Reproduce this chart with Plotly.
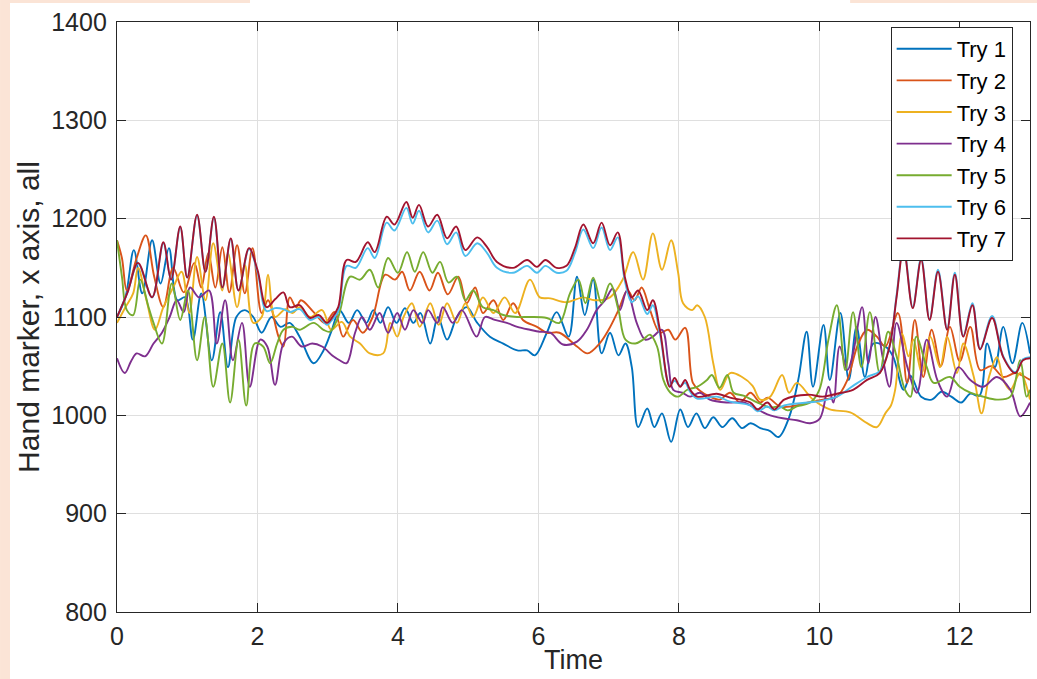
import plotly.graph_objects as go

# ---------------- data ----------------
series_names = ["Try 1", "Try 2", "Try 3", "Try 4", "Try 5", "Try 6", "Try 7"]
series_colors = ["#0072BD", "#D95319", "#EDB120", "#7E2F8E", "#77AC30", "#4DBEEE", "#A2142F"]

x_ticks = [0, 2, 4, 6, 8, 10, 12]
y_ticks = [800, 900, 1000, 1100, 1200, 1300, 1400]
x_title = "Time"
y_title = "Hand marker, x axis, all"

t1 = [0, 0.12, 0.24, 0.36, 0.5, 0.62, 0.74, 0.86, 0.97, 1.08, 1.2, 1.35, 1.47, 1.58, 1.7, 1.82, 1.94, 2.06, 2.2, 2.33,
      2.46, 2.6, 2.8, 2.94, 3.06, 3.17, 3.3, 3.42, 3.55, 3.65, 3.75, 3.86, 3.98, 4.1, 4.22, 4.32, 4.46, 4.57, 4.7, 4.84,
      4.98, 5.13, 5.31, 5.5, 5.7, 5.84, 5.95, 6.12, 6.26, 6.43, 6.55, 6.66, 6.78, 6.9, 7.02, 7.14, 7.24, 7.33, 7.42, 7.55,
      7.65, 7.76, 7.89, 8.02, 8.13, 8.25, 8.37, 8.49, 8.62, 8.76, 8.9, 9.02, 9.16, 9.3, 9.42, 9.57, 9.7, 9.82, 9.91, 10.06,
      10.15, 10.3, 10.42, 10.53, 10.65, 10.77, 10.94, 11.05, 11.2, 11.3, 11.45, 11.6, 11.74, 11.88, 12.02, 12.15, 12.28,
      12.39, 12.5, 12.62, 12.75, 12.89, 13.0]
y1 = [1100, 1120, 1168, 1124, 1178, 1134, 1170, 1117, 1120, 1077, 1124, 1056, 1105, 1049, 1100, 1107, 1100, 1084, 1100, 1090,
      1094, 1080, 1053, 1066, 1087, 1107, 1094, 1107, 1094, 1107, 1094, 1110, 1094, 1109, 1094, 1104, 1073, 1100, 1077, 1100,
      1110, 1094, 1080, 1073, 1066, 1066, 1061, 1084, 1105, 1080, 1141, 1102, 1138, 1063, 1084, 1061, 1073, 1049, 988, 1007,
      988, 1002, 973, 1006, 988, 1002, 987, 998, 988, 997, 987, 992, 987, 984, 978, 998, 1036, 1085, 1029, 1092,
      1036, 1104, 1036, 1090, 1039, 1073, 1070, 1060, 1026, 1040, 1019, 1016, 1024, 1019, 1013, 1022, 1020,
      1073, 1049, 1090, 1053, 1094, 1063]

t2 = [0, 0.07, 0.14, 0.28, 0.41, 0.53, 0.66, 0.8, 0.95, 1.1, 1.2, 1.3, 1.4, 1.5, 1.6, 1.71, 1.82, 1.93, 2.06, 2.15,
      2.3, 2.37, 2.46, 2.55, 2.62, 2.8, 2.96, 3.1, 3.22, 3.36, 3.5, 3.64, 3.82, 3.96, 4.06, 4.17, 4.31, 4.45, 4.57, 4.71,
      4.86, 4.98, 5.1, 5.21, 5.36, 5.5, 5.64, 5.78, 5.98, 6.12, 6.3, 6.55, 6.7, 6.87, 7.0, 7.14, 7.27, 7.37, 7.47, 7.59,
      7.73, 7.85, 7.95, 8.09, 8.2, 8.3, 8.44, 8.58, 8.73, 8.87, 9.02, 9.16, 9.26, 9.44, 9.6, 9.84, 10.05, 10.25, 10.4, 10.54,
      10.68, 10.82, 10.94, 11.12, 11.25, 11.36, 11.48, 11.6, 11.73, 11.86, 12.0, 12.15, 12.29, 12.45, 12.62, 12.79, 12.93, 13.0]
y2 = [1178, 1160, 1127, 1160, 1183, 1141, 1110, 1150, 1125, 1155, 1130, 1165, 1130, 1171, 1125, 1173, 1124, 1170, 1104, 1117,
      1080, 1070, 1120, 1110, 1117, 1105, 1094, 1105, 1080, 1097, 1084, 1100, 1143, 1138, 1146, 1127, 1146, 1127, 1145, 1123,
      1141, 1114, 1130, 1104, 1117, 1097, 1114, 1097, 1090, 1084, 1084, 1070, 1063, 1073, 1087, 1107, 1127, 1117, 1130, 1107,
      1084, 1087, 1077, 1089, 1033, 1025, 1019, 1016, 1023, 1013, 1023, 1013, 1018, 1009, 1009, 1013, 1016, 1019, 1036, 1070,
      1087, 1080, 1070, 1104, 1033, 1097, 1039, 1087, 1050, 1090, 1055, 1090, 1046, 1050, 1039, 1043, 1039, 1036]

t3 = [0, 0.12, 0.23, 0.3, 0.42, 0.54, 0.66, 0.8, 0.92, 1.03, 1.14, 1.26, 1.37, 1.5, 1.58, 1.71, 1.82, 1.94, 2.06, 2.15,
      2.25, 2.4, 2.5, 2.6, 2.75, 2.92, 3.05, 3.2, 3.32, 3.46, 3.6, 3.79, 3.89, 3.99, 4.08, 4.2, 4.31, 4.46, 4.58, 4.7,
      4.84, 4.96, 5.07, 5.21, 5.36, 5.52, 5.67, 5.88, 6.02, 6.17, 6.4, 6.64, 6.8, 7.02, 7.2, 7.35, 7.49, 7.63, 7.76, 7.89,
      7.99, 8.06, 8.19, 8.26, 8.37, 8.49, 8.59, 8.73, 8.9, 9.05, 9.16, 9.3, 9.47, 9.57, 9.68, 9.91, 10.15, 10.44, 10.68, 10.82,
      10.94, 11.02, 11.08, 11.18, 11.27, 11.34, 11.46, 11.58, 11.72, 11.82, 11.96, 12.05, 12.2, 12.31, 12.42, 12.53, 12.62,
      12.72, 12.86, 13.0]
y3 = [1094, 1110, 1124, 1150, 1117, 1087, 1110, 1130, 1146, 1104, 1161, 1117, 1175, 1127, 1165, 1110, 1153, 1094, 1100, 1143,
      1100, 1108, 1104, 1110, 1100, 1107, 1087, 1095, 1080, 1073, 1063, 1063, 1094, 1080, 1100, 1114, 1090, 1114, 1092, 1114,
      1094, 1114, 1100, 1120, 1104, 1120, 1104, 1138, 1120, 1119, 1115, 1120, 1117, 1120, 1138, 1166, 1138, 1185, 1148, 1178,
      1145, 1114, 1107, 1112, 1100, 1053, 1026, 1043, 1039, 1030, 1016, 1019, 1041, 1023, 1033, 1016, 1006, 1003, 992, 988,
      1002, 1010, 1026, 1083, 1060, 1077, 1043, 1080, 1049, 1080, 1043, 1073, 1039, 1002, 1040, 1059, 1036, 1026, 1043, 1016]

t4 = [0, 0.11, 0.2, 0.28, 0.4, 0.52, 0.64, 0.75, 0.85, 0.95, 1.04, 1.17, 1.31, 1.42, 1.54, 1.65, 1.78, 1.89, 2.04, 2.14,
      2.25, 2.37, 2.49, 2.63, 2.78, 2.92, 3.08, 3.17, 3.27, 3.39, 3.49, 3.6, 3.74, 3.86, 3.99, 4.1, 4.22, 4.35, 4.43, 4.56,
      4.64, 4.78, 4.91, 5.12, 5.24, 5.38, 5.55, 5.7, 5.88, 6.02, 6.17, 6.35, 6.55, 6.69, 6.83, 6.95, 7.06, 7.16, 7.26, 7.4,
      7.52, 7.63, 7.76, 7.85, 7.92, 8.05, 8.16, 8.3, 8.44, 8.69, 8.92, 9.12, 9.26, 9.48, 9.68, 9.87, 10.01, 10.13, 10.2, 10.29,
      10.4, 10.48, 10.61, 10.7, 10.8, 10.9, 11.0, 11.1, 11.25, 11.39, 11.53, 11.68, 11.82, 11.98, 12.15, 12.33, 12.53, 12.72,
      12.86, 13.0]
y4 = [1058, 1043, 1055, 1063, 1060, 1073, 1084, 1100, 1117, 1105, 1130, 1120, 1127, 1073, 1117, 1056, 1094, 1029, 1077, 1070,
      1031, 1073, 1080, 1070, 1073, 1070, 1060, 1056, 1053, 1084, 1100, 1087, 1104, 1084, 1104, 1087, 1107, 1094, 1107, 1094,
      1110, 1094, 1107, 1080, 1100, 1097, 1094, 1090, 1087, 1085, 1084, 1072, 1075, 1087, 1107, 1117, 1129, 1107, 1127, 1094,
      1077, 1080, 1087, 1053, 1026, 1023, 1019, 1023, 1016, 1013, 1013, 1006, 1001, 997, 995, 992, 997, 1029, 1013, 1070,
      1046, 1063, 1110, 1053, 1100, 1060, 1029, 1094, 1050, 1023, 1077, 1036, 1019, 1049, 1036, 1029, 1039, 1026, 999, 1013]

t5 = [0, 0.07, 0.14, 0.23, 0.33, 0.45, 0.52, 0.64, 0.78, 0.9, 1.01, 1.14, 1.25, 1.37, 1.5, 1.61, 1.73, 1.84, 1.96, 2.08,
      2.18, 2.28, 2.37, 2.5, 2.6, 2.8, 2.94, 3.03, 3.15, 3.32, 3.46, 3.6, 3.72, 3.86, 4.0, 4.13, 4.24, 4.36, 4.49, 4.6,
      4.72, 4.84, 4.96, 5.07, 5.21, 5.36, 5.5, 5.7, 5.88, 6.12, 6.3, 6.45, 6.57, 6.67, 6.78, 6.9, 7.02, 7.14, 7.24, 7.38,
      7.49, 7.59, 7.69, 7.78, 7.88, 7.99, 8.12, 8.26, 8.4, 8.47, 8.58, 8.69, 8.78, 8.92, 9.12, 9.3, 9.44, 9.55, 9.68, 9.87,
      10.0, 10.13, 10.25, 10.37, 10.48, 10.6, 10.72, 10.86, 10.98, 11.1, 11.22, 11.3, 11.38, 11.53, 11.63, 11.86, 12.0, 12.15,
      12.33, 12.53, 12.72, 12.86, 12.95, 13.0]
y5 = [1178, 1141, 1107, 1102, 1138, 1110, 1094, 1073, 1134, 1097, 1127, 1056, 1100, 1029, 1073, 1013, 1077, 1010, 1073, 1070,
      1053, 1073, 1087, 1090, 1087, 1094, 1087, 1085, 1100, 1141, 1138, 1148, 1130, 1160, 1145, 1166, 1146, 1166, 1145, 1156,
      1135, 1141, 1117, 1127, 1110, 1107, 1102, 1100, 1100, 1099, 1094, 1124, 1138, 1114, 1140, 1114, 1134, 1107, 1077, 1073,
      1077, 1082, 1070, 1036, 1023, 1019, 1026, 1029, 1036, 1041, 1028, 1041, 1023, 1020, 1013, 1008, 1009, 1005, 1009, 1013,
      1026, 1077, 1112, 1046, 1105, 1049, 1105, 1043, 1085, 1060, 1026, 1019, 1080, 1049, 1033, 1039, 1029, 1023, 1019, 1016,
      1019, 1056, 1019, 1026]

t6 = [0, 0.15, 0.3, 0.5, 0.66, 0.77, 0.9, 1.0, 1.14, 1.26, 1.38, 1.5, 1.62, 1.73, 1.88, 2.0, 2.13, 2.25, 2.37, 2.46,
      2.6, 2.75, 2.87, 2.99, 3.05, 3.15, 3.27, 3.4, 3.57, 3.67, 3.84, 3.95, 4.12, 4.21, 4.3, 4.43, 4.56, 4.7, 4.83, 4.96,
      5.13, 5.27, 5.41, 5.64, 5.84, 5.98, 6.1, 6.26, 6.4, 6.52, 6.64, 6.78, 6.9, 7.02, 7.13, 7.23, 7.33, 7.42, 7.55, 7.63,
      7.73, 7.87, 7.94, 8.02, 8.09, 8.16, 8.26, 8.54, 8.73, 9.02, 9.12, 9.26, 9.36, 9.5, 9.84, 10.05, 10.25, 10.48, 10.68, 10.86,
      11.0, 11.1, 11.2, 11.33, 11.45, 11.57, 11.69, 11.82, 11.93, 12.05, 12.18, 12.29, 12.46, 12.62, 12.79, 12.9, 13.0]
y6 = [1100, 1125, 1154, 1120, 1175, 1138, 1191, 1140, 1203, 1146, 1201, 1130, 1179, 1127, 1169, 1146, 1106, 1109, 1108, 1105,
      1108, 1097, 1100, 1092, 1096, 1106, 1152, 1150, 1170, 1160, 1196, 1188, 1211, 1195, 1208, 1186, 1198, 1174, 1186, 1162,
      1175, 1165, 1150, 1145, 1152, 1145, 1152, 1145, 1147, 1165, 1189, 1170, 1191, 1168, 1181, 1137, 1115, 1121, 1103, 1112,
      1083, 1031, 1035, 1030, 1033, 1024, 1017, 1019, 1014, 1010, 1004, 1009, 1005, 1010, 1013, 1015, 1019, 1030, 1039, 1045,
      1070, 1122, 1172, 1110, 1160, 1098, 1148, 1088, 1145, 1081, 1114, 1068, 1101, 1060, 1044, 1057, 1059]

t7 = [0, 0.15, 0.3, 0.5, 0.66, 0.77, 0.9, 1.0, 1.14, 1.26, 1.38, 1.5, 1.62, 1.73, 1.88, 2.0, 2.13, 2.25, 2.37, 2.46,
      2.6, 2.75, 2.87, 2.99, 3.05, 3.15, 3.27, 3.4, 3.57, 3.67, 3.84, 3.95, 4.12, 4.21, 4.3, 4.43, 4.56, 4.7, 4.83, 4.96,
      5.13, 5.27, 5.41, 5.64, 5.84, 5.98, 6.1, 6.26, 6.4, 6.52, 6.64, 6.78, 6.9, 7.02, 7.13, 7.23, 7.33, 7.42, 7.55, 7.63,
      7.73, 7.87, 7.94, 8.02, 8.09, 8.16, 8.26, 8.54, 8.73, 9.02, 9.12, 9.26, 9.36, 9.5, 9.84, 10.05, 10.25, 10.48, 10.68, 10.86,
      11.0, 11.1, 11.2, 11.33, 11.45, 11.57, 11.69, 11.82, 11.93, 12.05, 12.18, 12.29, 12.46, 12.62, 12.79, 12.9, 13.0]
y7 = [1100, 1125, 1155, 1120, 1176, 1138, 1192, 1140, 1204, 1146, 1202, 1130, 1180, 1127, 1170, 1148, 1110, 1118, 1125, 1110,
      1112, 1099, 1102, 1094, 1098, 1110, 1158, 1156, 1176, 1166, 1202, 1194, 1217, 1201, 1214, 1192, 1204, 1180, 1192, 1168,
      1181, 1171, 1156, 1150, 1158, 1151, 1158, 1150, 1152, 1170, 1194, 1175, 1196, 1173, 1186, 1141, 1120, 1127, 1107, 1117,
      1087, 1029, 1038, 1029, 1036, 1026, 1019, 1022, 1018, 1013, 1006, 1013, 1006, 1016, 1021, 1019, 1022, 1026, 1036, 1043,
      1070, 1120, 1170, 1109, 1158, 1097, 1146, 1087, 1143, 1080, 1112, 1067, 1099, 1059, 1043, 1056, 1058]

times = [t1, t2, t3, t4, t5, t6, t7]
values = [y1, y2, y3, y4, y5, y6, y7]

# ---------------- figure ----------------
FONT = "Liberation Sans, Arial, Helvetica, sans-serif"
INK = "#262626"

fig = go.Figure()
for name, color, tt, vv in zip(series_names, series_colors, times, values):
    if len(tt) != len(vv):
        raise ValueError(f"{name}: {len(tt)} times vs {len(vv)} values")
    fig.add_trace(go.Scatter(
        x=tt, y=vv, name=name, mode="lines",
        line=dict(color=color, width=1.9, shape="spline", smoothing=1.0),
    ))

axis_common = dict(
    automargin=False,
    showgrid=True, gridcolor="#DFDFDF", gridwidth=1,
    zeroline=False,
    showline=True, linecolor=INK, linewidth=1.3, mirror="ticks",
    ticks="inside", ticklen=9, tickwidth=1.3, tickcolor=INK,
    tickfont=dict(family=FONT, size=25, color=INK),
)

fig.update_layout(
    width=1037, height=679,
    margin=dict(l=117, r=7, t=22, b=67, autoexpand=False),
    paper_bgcolor="white", plot_bgcolor="white",
    font=dict(family=FONT, color=INK),
    showlegend=True,
    legend=dict(
        x=0.981, y=0.9915, xanchor="right", yanchor="top",
        bgcolor="white", bordercolor=INK, borderwidth=1,
        font=dict(family=FONT, size=22, color="#000000"),
        itemwidth=55, tracegroupgap=0,
    ),
    xaxis=dict(range=[0, 13], tickvals=x_ticks, ticktext=[str(v) for v in x_ticks],
               ticklabelstandoff=2, **axis_common),
    yaxis=dict(range=[800, 1400], tickvals=y_ticks, ticktext=[str(v) for v in y_ticks],
               title=dict(text=y_title, font=dict(family=FONT, size=30, color=INK), standoff=2),
               ticklabelstandoff=4, **axis_common),
    annotations=[
        dict(text=x_title, xref="paper", yref="paper", x=0.5, y=-0.1105,
             xanchor="center", yanchor="bottom", showarrow=False,
             font=dict(family=FONT, size=27, color=INK)),
    ],
    shapes=[
        dict(type="rect", xref="paper", yref="paper", x0=-0.1281, x1=-0.1172, y0=-0.114, y1=1.0373,
             fillcolor="#FBE4D6", line=dict(width=0), layer="below"),
        dict(type="rect", xref="paper", yref="paper", x0=-0.1172, x1=0.1457, y0=1.0322, y1=1.0373,
             fillcolor="#FBE4D6", line=dict(width=0), layer="below"),
        dict(type="rect", xref="paper", yref="paper", x0=0.803, x1=1.0077, y0=1.0322, y1=1.0373,
             fillcolor="#FBE4D6", line=dict(width=0), layer="below"),
    ],
)

fig.write_html("out.html")
